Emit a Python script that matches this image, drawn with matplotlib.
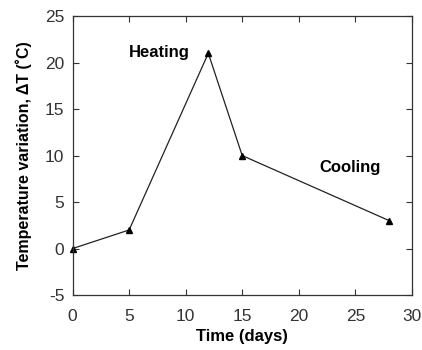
import matplotlib
import matplotlib.pyplot as plt

matplotlib.use("Agg")

plt.rcParams["font.family"] = ["Liberation Sans", "DejaVu Sans"]
plt.rcParams["axes.unicode_minus"] = False

# --- Data ---
days = [0, 5, 12, 15, 28]
delta_t = [0, 2, 21, 10, 3]
x_ticks = [0, 5, 10, 15, 20, 25, 30]
y_ticks = [-5, 0, 5, 10, 15, 20, 25]

fig = plt.figure(figsize=(4.22, 3.5), dpi=100)
ax = fig.add_axes([0.172, 0.157, 0.804, 0.797])

ax.plot(days, delta_t, color="#222222", lw=0.9, marker="^", ms=5,
        markerfacecolor="black", markeredgecolor="black", clip_on=False)

ax.set_xlim(0, 30)
ax.set_ylim(-5, 25)
ax.set_xticks(x_ticks)
ax.set_yticks(y_ticks)
ax.tick_params(direction="in", top=True, right=True, length=4, width=0.8,
               labelsize=12.5, colors="#333333")
ax.tick_params(axis="x", pad=10)
ax.tick_params(axis="y", pad=6)
for s in ax.spines.values():
    s.set_linewidth(0.9)
    s.set_color("#333333")

ax.set_xlabel("Time (days)", fontsize=12, fontweight="bold", labelpad=4)
ax.set_ylabel("Temperature variation, \u0394T (\u02daC)", fontsize=11.5,
              fontweight="bold", labelpad=9)

# phase annotations
ax.text(7.7, 21.1, "Heating", ha="center", va="center", fontsize=12, fontweight="bold")
ax.text(24.5, 8.7, "Cooling", ha="center", va="center", fontsize=12, fontweight="bold")

fig.savefig("out.png", dpi=100)
plt.close()
